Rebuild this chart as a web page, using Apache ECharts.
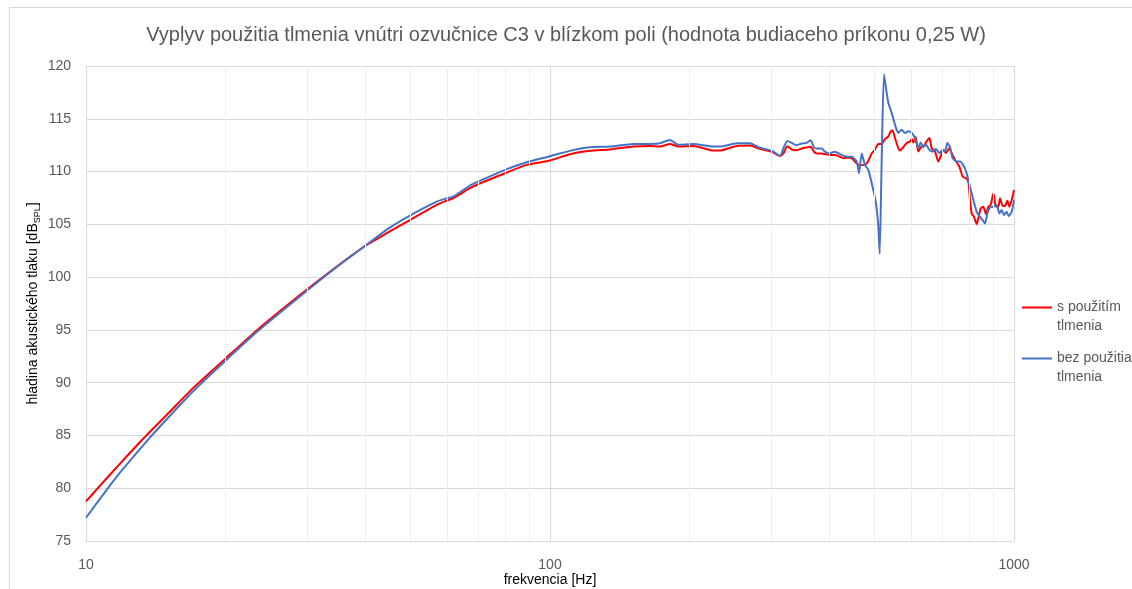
<!DOCTYPE html>
<html>
<head>
<meta charset="utf-8">
<script src="https://cdn.jsdelivr.net/npm/echarts@6/dist/echarts.min.js"></script>
<style>
html,body{margin:0;padding:0;background:#fff;}
#chart{width:1132px;height:589px;}
</style>
</head>
<body>
<div id="chart"></div>
<script>
// ---- Data ----
const titleText = 'Vyplyv použitia tlmenia vnútri ozvučnice C3 v blízkom poli (hodnota budiaceho príkonu 0,25 W)';
const seriesNames = ['s použitím tlmenia', 'bez použitia tlmenia'];

const redFreq = [10, 10.65, 11.8, 13.36, 15.12, 17.12, 20, 23.4, 28.9, 34.1, 40, 44.5, 50, 57.0, 60, 61.9, 67.2, 70, 80, 89.1,
  100, 110.4, 121.9, 134.7, 151.2, 164.3, 172.6, 181.4, 189.1, 203.7, 224.9, 232.4, 252.5, 269.8, 283.6, 300.5, 313.2, 318.4, 324.8, 331.8,
  340.1, 348.7, 357.4, 364.6, 370.7, 375.6, 385, 391.5, 400, 411.4, 421.7, 430.1, 437.3, 446.9, 458.1, 465.6, 477.3, 485.3, 493.4, 501.7,
  510.1, 518.6, 527.2, 536.0, 542.3, 547.6, 554.0, 563.2, 567.9, 577.4, 587.1, 596.9, 601.9, 606.7, 613.9, 622.0, 630.3, 639.7, 648.3, 656.9,
  664.6, 675.6, 686.9, 694.9, 704.2, 713.5, 725.4, 733.8, 746.1, 762.4, 775.2, 788.1, 797.3, 803.9, 810.6, 820.0, 830.9, 837.8, 847.6, 858.8,
  870.4, 880.5, 890.7, 902.6, 914.6, 925.2, 932.9, 945.4, 956.3, 967.4, 977.0, 988.6, 1000];
const redDb = [78.75, 80.1, 82.26, 84.8, 87.2, 89.6, 92.3, 95.0, 98.3, 100.75, 102.97, 104.16, 105.43, 106.85, 107.26, 107.48, 108.42, 108.8, 109.84, 110.63,
  111.05, 111.64, 111.96, 112.1, 112.37, 112.43, 112.37, 112.62, 112.37, 112.43, 111.99, 111.99, 112.43, 112.46, 112.15, 111.88, 111.47, 111.72, 112.4, 112.09,
  112.03, 112.19, 112.28, 112.34, 111.88, 111.72, 111.72, 111.66, 111.56, 111.56, 111.4, 111.25, 111.34, 111.25, 110.78, 110.6, 110.63, 111.0, 111.7, 112.1,
  112.6, 112.6, 113.08, 113.33, 113.81, 113.9, 113.17, 112.22, 112.0, 112.32, 112.7, 112.86, 113.08, 112.76, 113.27, 111.9, 112.32, 112.44, 112.86, 113.17,
  112.22, 111.9, 110.95, 111.43, 112.06, 111.75, 112.22, 111.75, 111.11, 110.48, 109.52, 109.37, 109.05, 107.3, 106.03, 105.71, 105.02, 105.56, 106.51, 106.67,
  105.97, 106.67, 106.83, 107.94, 106.67, 106.67, 107.46, 106.73, 106.73, 107.24, 106.67, 107.3, 108.25];

const blueFreq = [10, 11.04, 11.8, 13.7, 15.12, 17.12, 20, 23.4, 28.9, 34.1, 40, 44.5, 50, 57.0, 60, 61.9, 67.2, 70, 80, 89.1,
  100, 110.4, 121.9, 134.7, 151.2, 164.3, 172.6, 181.4, 189.1, 203.7, 224.9, 232.4, 252.5, 269.8, 283.6, 300.5, 313.2, 318.4, 324.8, 331.8,
  340.1, 348.7, 357.4, 364.6, 370.7, 375.6, 385, 391.5, 400, 411.4, 421.7, 430.1, 437.3, 446.9, 458.1, 463.4, 469.6, 477.3, 485.3, 497.5,
  504.2, 510.1, 513.5, 518.6, 524.6, 531.6, 536.0, 544.9, 554.0, 563.2, 572.7, 582.2, 592.0, 601.9, 611.8, 622.0, 629.2, 637.6, 646.1, 656.9,
  667.9, 679.0, 690.3, 701.8, 710.0, 718.3, 727.8, 737.5, 752.3, 764.9, 780.2, 790.7, 803.9, 817.4, 830.9, 844.9, 856.1, 866.0, 876.1, 887.8,
  902.6, 917.6, 929.9, 940.7, 951.7, 964.3, 973.9, 988.6, 1000];
const blueDb = [77.2, 79.75, 81.4, 84.75, 86.8, 89.3, 92.1, 94.84, 98.17, 100.7, 102.97, 104.5, 105.85, 107.15, 107.48, 107.63, 108.68, 109.05, 110.16, 110.88,
  111.45, 111.96, 112.3, 112.37, 112.62, 112.62, 112.68, 113.0, 112.53, 112.62, 112.37, 112.37, 112.68, 112.68, 112.25, 111.97, 111.5, 112.19, 112.9, 112.72,
  112.5, 112.66, 112.72, 112.97, 112.28, 112.19, 112.19, 111.88, 111.72, 111.88, 111.66, 111.47, 111.4, 111.4, 110.94, 109.84, 111.72, 110.63, 110.16, 108.25,
  106.98, 104.76, 102.22, 111.11, 119.21, 117.46, 116.51, 115.56, 114.44, 113.65, 113.97, 113.65, 113.81, 113.65, 113.17, 112.22, 112.76, 112.32, 112.54, 112.06,
  111.9, 112.13, 111.75, 112.06, 111.9, 112.7, 112.32, 111.27, 110.95, 110.95, 110.48, 109.84, 108.57, 107.3, 106.19, 105.71, 105.4, 105.08, 106.03, 106.6,
  106.67, 106.83, 106.03, 106.35, 105.87, 106.19, 105.78, 106.19, 107.3];

const minorFreqs = [20, 30, 40, 50, 60, 70, 80, 90, 200, 300, 400, 500, 600, 700, 800, 900];
const xMin = 10, xMax = 1000;
const yMin = 75, yMax = 120, yStep = 5;

// ---- Chart ----
const zip = (xs, ys) => xs.map((x, i) => [x, ys[i]]);
const redData = zip(redFreq, redDb);
const blueData = zip(blueFreq, blueDb);
const txt = '#595959';
const font = 'Liberation Sans';

const chart = echarts.init(document.getElementById('chart'), null, {renderer: 'canvas'});
chart.setOption({
  backgroundColor: '#ffffff',
  animation: false,
  textStyle: {fontFamily: font},
  graphic: [{
    type: 'rect', left: 7, top: 5, silent: true, z: -10,
    shape: {width: 1300, height: 800},
    style: {fill: 'none', stroke: '#D9D9D9', lineWidth: 1}
  }],
  title: {
    text: titleText, left: 'center', top: 25, padding: 0,
    textStyle: {fontFamily: font, fontSize: 20, fontWeight: 'normal', color: txt}
  },
  grid: {left: 86, right: 118, top: 66, bottom: 48, containLabel: false, outerBoundsMode: 'none'},
  legend: {
    orient: 'vertical', left: 1022, top: 298, padding: 0,
    itemWidth: 30, itemHeight: 21, itemGap: 13,
    icon: 'path://M0,0L30,0L30,2L0,2Z M0,20.98L0.02,20.98L0.02,21L0,21Z',
    data: seriesNames,
    formatter: n => n.replace(' tlmenia', '\ntlmenia'),
    textStyle: {fontFamily: font, fontSize: 14, color: txt, lineHeight: 19}
  },
  xAxis: {
    type: 'log', logBase: 10, min: xMin, max: xMax,
    name: 'frekvencia [Hz]', nameLocation: 'middle', nameGap: 32, nameMoveOverlap: false,
    nameTextStyle: {fontFamily: font, fontSize: 14, color: '#000'},
    axisLine: {show: true, lineStyle: {color: '#D9D9D9', width: 1}},
    axisTick: {show: false},
    axisLabel: {fontFamily: font, fontSize: 14, color: txt, margin: 17, formatter: v => String(Math.round(v))},
    splitLine: {show: true, lineStyle: {color: '#D9D9D9', width: 1}}
  },
  yAxis: {
    type: 'value', min: yMin, max: yMax, interval: yStep,
    name: '{n|hladina akustického tlaku [dB}{s|SPL}{n|]}', nameLocation: 'middle', nameGap: 44, nameMoveOverlap: false,
    nameTextStyle: {
      fontFamily: font, color: '#000',
      rich: {
        n: {fontFamily: font, fontSize: 14, color: '#000', lineHeight: 18, verticalAlign: 'middle'},
        s: {fontFamily: font, fontSize: 9, color: '#000', lineHeight: 18, verticalAlign: 'bottom', padding: [6, 0, 0, 0]}
      }
    },
    axisLine: {show: false},
    axisTick: {show: false},
    axisLabel: {fontFamily: font, fontSize: 14, color: txt, margin: 15},
    splitLine: {show: true, lineStyle: {color: '#D9D9D9', width: 1}}
  },
  series: [
    {
      name: '_minorGrid', type: 'line', data: redData, z: 0, silent: true,
      showSymbol: false, symbol: 'none', lineStyle: {opacity: 0}, tooltip: {show: false},
      markLine: {
        silent: true, symbol: ['none', 'none'], animation: false,
        label: {show: false},
        lineStyle: {color: '#EEEEEE', width: 1, type: 'solid'},
        emphasis: {disabled: true},
        data: minorFreqs.map(v => ({xAxis: v}))
      }
    },
    {
      name: seriesNames[0], type: 'line', data: redData, z: 3,
      symbol: 'none', smooth: 0.2, color: '#FF0000',
      lineStyle: {color: '#FF0000', width: 2}
    },
    {
      name: seriesNames[1], type: 'line', data: blueData, z: 4,
      symbol: 'none', smooth: 0.2, color: '#4472C4',
      lineStyle: {color: '#4472C4', width: 2}
    }
  ]
});
</script>
</body>
</html>
